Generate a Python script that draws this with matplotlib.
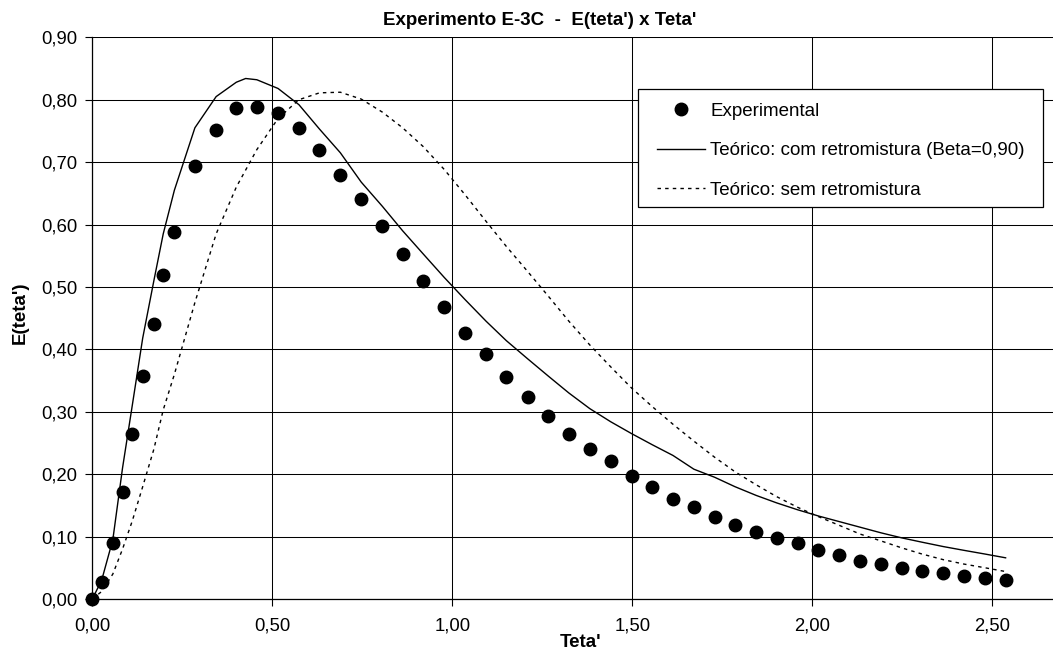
import matplotlib
matplotlib.use("Agg")
import matplotlib.pyplot as plt
from matplotlib.ticker import MultipleLocator, FuncFormatter
from matplotlib.patches import Rectangle

plt.rcParams['font.family'] = ['Liberation Sans', 'DejaVu Sans']

# ---- data ----
teta = [0.000, 0.026, 0.057, 0.084, 0.111, 0.140, 0.171, 0.197, 0.228, 0.285,
        0.344, 0.400, 0.457, 0.516, 0.574, 0.631, 0.689, 0.747, 0.806, 0.862,
        0.919, 0.978, 1.035, 1.094, 1.150, 1.209, 1.267, 1.324, 1.382, 1.440,
        1.498, 1.556, 1.613, 1.671, 1.729, 1.785, 1.844, 1.901, 1.959, 2.017,
        2.075, 2.133, 2.191, 2.248, 2.305, 2.364, 2.421, 2.480, 2.537]

e_exp = [0.000, 0.027, 0.089, 0.171, 0.265, 0.358, 0.441, 0.519, 0.588, 0.693,
         0.751, 0.787, 0.788, 0.778, 0.754, 0.720, 0.679, 0.641, 0.598, 0.553,
         0.509, 0.468, 0.426, 0.392, 0.356, 0.324, 0.293, 0.265, 0.241, 0.221,
         0.197, 0.179, 0.160, 0.147, 0.131, 0.119, 0.108, 0.097, 0.089, 0.079,
         0.071, 0.061, 0.056, 0.049, 0.045, 0.041, 0.037, 0.033, 0.030]

teta_com = [0.000, 0.026, 0.057, 0.084, 0.111, 0.140, 0.171, 0.197, 0.228, 0.285,
            0.344, 0.400, 0.426, 0.457, 0.516, 0.574, 0.631, 0.689, 0.747, 0.806,
            0.862, 0.919, 0.978, 1.035, 1.094, 1.150, 1.209, 1.267, 1.324, 1.382,
            1.440, 1.498, 1.556, 1.613, 1.671, 1.729, 1.785, 1.844, 1.901, 1.959,
            2.017, 2.075, 2.133, 2.191, 2.248, 2.305, 2.364, 2.421, 2.480, 2.537]
e_com = [0.000, 0.030, 0.095, 0.210, 0.310, 0.418, 0.510, 0.585, 0.655, 0.755,
         0.805, 0.828, 0.834, 0.832, 0.818, 0.792, 0.753, 0.715, 0.668, 0.629,
         0.590, 0.553, 0.515, 0.480, 0.445, 0.414, 0.385, 0.357, 0.330, 0.305,
         0.284, 0.265, 0.247, 0.230, 0.208, 0.195, 0.180, 0.166, 0.154, 0.143,
         0.133, 0.124, 0.115, 0.106, 0.098, 0.091, 0.084, 0.078, 0.072, 0.066]

e_sem = [0.000, 0.012, 0.040, 0.080, 0.125, 0.180, 0.240, 0.303, 0.360, 0.475,
         0.585, 0.660, 0.720, 0.770, 0.800, 0.811, 0.812, 0.801, 0.780, 0.755,
         0.725, 0.688, 0.648, 0.605, 0.565, 0.525, 0.485, 0.445, 0.407, 0.372,
         0.338, 0.308, 0.280, 0.253, 0.227, 0.204, 0.183, 0.164, 0.147, 0.132,
         0.118, 0.104, 0.093, 0.082, 0.072, 0.063, 0.056, 0.050, 0.044]

title = "Experimento E-3C  -  E(teta') x Teta'"
xlabel = "Teta'"
ylabel = "E(teta')"
labels = ["Experimental", "Teórico: com retromistura (Beta=0,90)", "Teórico: sem retromistura"]

W, H = 1053, 650
fig = plt.figure(figsize=(W / 100, H / 100), dpi=100)
ax = fig.add_axes([92.3 / W, 1 - 599 / H, (W - 92.3) / W, (599 - 37.3) / H])

ax.plot(teta, e_exp, 'o', color='black', markersize=9, label=labels[0], zorder=4, clip_on=False)
ax.plot(teta_com, e_com, '-', color='black', lw=1.0, label=labels[1], zorder=3)
ax.plot(teta, e_sem, color='black', lw=1.0, linestyle=(0, (2.5, 3)), label=labels[2], zorder=3)

ax.set_xlim(0, (W - 92.3) / 360.0)
ax.set_ylim(0, 0.9)
ax.xaxis.set_major_locator(MultipleLocator(0.5))
ax.yaxis.set_major_locator(MultipleLocator(0.1))
fmt = FuncFormatter(lambda v, p: f"{v:.2f}".replace('.', ','))
ax.xaxis.set_major_formatter(fmt)
ax.yaxis.set_major_formatter(fmt)
ax.tick_params(direction='out', length=5, width=0.8, labelsize=13.3, colors='black')
ax.tick_params(axis='x', pad=8)
ax.tick_params(axis='y', pad=6)
ax.grid(True, color='black', lw=0.75)
ax.set_axisbelow(True)
for s in ['top', 'right']:
    ax.spines[s].set_visible(False)
for s in ['left', 'bottom']:
    ax.spines[s].set_linewidth(0.9)

fig.text(581 / W, 1 - 647 / H, xlabel, fontsize=13.5, fontweight='bold', ha='center', va='baseline')
fig.text(20 / W, 1 - 313 / H, ylabel, fontsize=13.5, fontweight='bold', ha='center', va='center',
         rotation=90)
fig.text(540 / W, 1 - 25 / H, title, fontsize=13.5, fontweight='bold', ha='center', va='baseline')

box = Rectangle((638 / W, 1 - 207 / H), (1043 - 638) / W, (207 - 89) / H,
                transform=fig.transFigure, facecolor='white', edgecolor='black',
                lw=0.9, zorder=4.5, clip_on=False)
ax.add_patch(box)
leg = ax.legend(loc='upper left', bbox_to_anchor=(657 / W, 1 - 102.5 / H),
                bbox_transform=fig.transFigure, borderaxespad=0, borderpad=0,
                fontsize=13.5, frameon=False,
                handlelength=2.56, handletextpad=0.27, labelspacing=1.2, numpoints=1)
leg.set_zorder(5)

fig.savefig('out.png', dpi=100)
